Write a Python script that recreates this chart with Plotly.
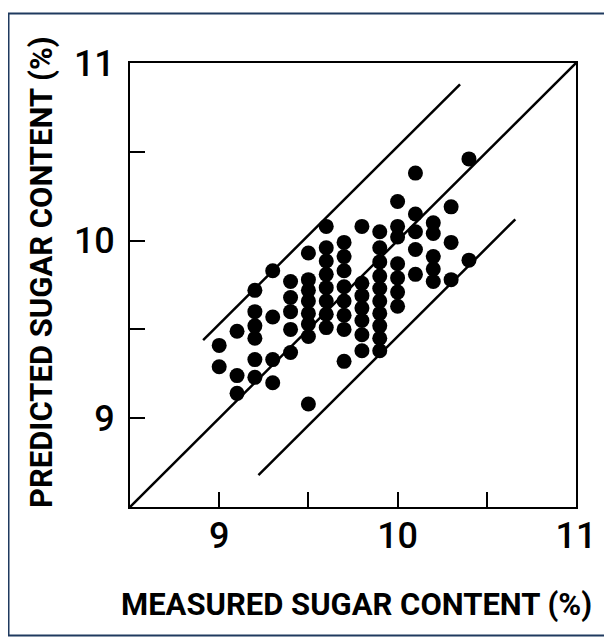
import plotly.graph_objects as go

# Measured sugar content (%) columns and predicted values
col_9_0 = [9.41, 9.29]
col_9_1 = [9.49, 9.24, 9.14]
col_9_2 = [9.72, 9.60, 9.52, 9.45, 9.33, 9.23]
col_9_3 = [9.83, 9.57, 9.33, 9.20]
col_9_4 = [9.77, 9.68, 9.60, 9.50, 9.37]
col_9_5 = [9.93, 9.78, 9.72, 9.66, 9.59, 9.53, 9.46, 9.08]
col_9_6 = [10.08, 9.96, 9.885, 9.81, 9.735, 9.66, 9.585, 9.51]
col_9_7 = [9.99, 9.91, 9.83, 9.74, 9.66, 9.58, 9.50, 9.32]
col_9_8 = [10.08, 9.76, 9.69, 9.62, 9.55, 9.47, 9.38]
col_9_9 = [10.05, 9.96, 9.88, 9.80, 9.73, 9.66, 9.59, 9.52, 9.45, 9.38]
col_10_0 = [10.22, 10.08, 10.02, 9.87, 9.79, 9.71, 9.63]
col_10_1 = [10.38, 10.15, 10.05, 9.95, 9.81]
col_10_2 = [10.10, 10.04, 9.91, 9.84, 9.77]
col_10_3 = [10.19, 9.99, 9.78]
col_10_4 = [10.46, 9.89]

measured_levels = [9.0, 9.1, 9.2, 9.3, 9.4, 9.5, 9.6, 9.7, 9.8, 9.9, 10.0, 10.1, 10.2, 10.3, 10.4]
predicted_cols = [col_9_0, col_9_1, col_9_2, col_9_3, col_9_4, col_9_5, col_9_6, col_9_7,
                  col_9_8, col_9_9, col_10_0, col_10_1, col_10_2, col_10_3, col_10_4]

# Reference lines
identity_x = [8.5, 11.0]
identity_y = [8.5, 11.0]
upper_x = [8.91, 10.35]
upper_y = [9.44, 10.88]
lower_x = [9.22, 10.66]
lower_y = [8.68, 10.12]

tick_vals = [9, 9.5, 10, 10.5, 11]
tick_text = ["9", "", "10", "", "11"]

x_title = "MEASURED SUGAR CONTENT (%)"
y_title = "PREDICTED SUGAR CONTENT (%)"

xs, ys = [], []
for m, col in zip(measured_levels, predicted_cols):
    for p in col:
        xs.append(m)
        ys.append(p)

fig = go.Figure()
for lx, ly in [(identity_x, identity_y), (upper_x, upper_y), (lower_x, lower_y)]:
    fig.add_trace(go.Scatter(x=lx, y=ly, mode="lines",
                             line=dict(color="black", width=2.5),
                             showlegend=False, hoverinfo="skip"))
fig.add_trace(go.Scatter(x=xs, y=ys, mode="markers",
                         marker=dict(color="black", size=15, line=dict(width=0)),
                         showlegend=False))

FONT = "Roboto, Liberation Sans, Arial"
axis_common = dict(
    range=[8.5, 11], tickvals=tick_vals, ticktext=tick_text,
    ticks="inside", ticklen=15, tickwidth=2, tickcolor="black",
    showline=True, linecolor="black", linewidth=2, mirror=True,
    showgrid=False, zeroline=False,
    tickfont=dict(family=FONT, size=36, color="black", weight=500),
)

fig.update_xaxes(**axis_common, ticklabelstandoff=-4)
fig.update_yaxes(**axis_common, ticklabelstandoff=6)

title_font = dict(family=FONT, size=31, color="black", weight=700)
fig.add_annotation(text=x_title, xref="paper", yref="paper", x=0.507, y=-0.2185,
                   xanchor="center", yanchor="middle", showarrow=False, font=title_font)
fig.add_annotation(text=y_title, xref="paper", yref="paper", x=-0.1996, y=0.529,
                   xanchor="center", yanchor="middle", showarrow=False, textangle=-90,
                   font=title_font)

fig.add_shape(type="rect", xref="paper", yref="paper",
              x0=-0.2724, x1=1.0774, y0=-0.2894, y1=1.1115,
              line=dict(color="#1F3A5F", width=2), fillcolor="rgba(0,0,0,0)")

fig.update_layout(
    width=604, height=629,
    margin=dict(l=122, r=36, t=55, b=130),
    paper_bgcolor="white", plot_bgcolor="white",
)

fig.write_html("out.html")
